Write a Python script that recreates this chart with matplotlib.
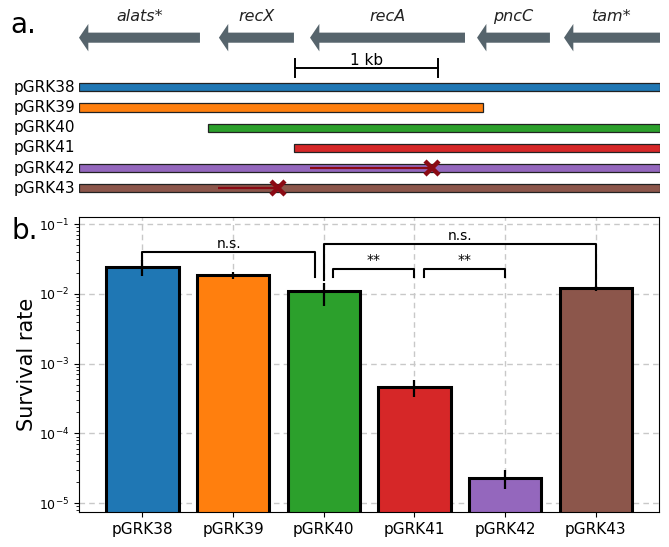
import matplotlib
matplotlib.use("Agg")
import matplotlib.pyplot as plt
from matplotlib.patches import FancyArrow
import numpy as np

# ---------------- data ----------------
constructs = ["pGRK38", "pGRK39", "pGRK40", "pGRK41", "pGRK42", "pGRK43"]
colors = ["#1f77b4", "#ff7f0e", "#2ca02c", "#d62728", "#9467bd", "#8c564b"]

# panel a: genomic map (bp)
genes = ["alats*", "recX", "recA", "pncC", "tam*"]
gene_tip = [0, 975, 1610, 2774, 3380]
gene_tail = [843, 1498, 2690, 3282, 4049]
construct_start = [0, 0, 899, 1498, 0, 0]
construct_end = [4049, 2815, 4049, 4049, 4049, 4049]
# deletion lines with X marks (construct index, line start, X position)
del_rows = [4, 5]
del_start = [1613, 969]
del_x = [2460, 1384]
scale_start = 1505
scale_len = 1000

# panel b: survival rate
survival = [0.0245, 0.0185, 0.0108, 4.55e-4, 2.32e-5, 0.0121]
surv_low = [0.0179, 0.0162, 0.0067, 3.33e-4, 1.6e-5, 0.0108]
surv_high = [0.0306, 0.0206, 0.0145, 5.77e-4, 3.0e-5, 0.0128]

# significance brackets: x1, x2, bar height, left leg bottom, right leg bottom, label
br_x1 = [0.0, 2.0, 2.1, 3.1]
br_x2 = [1.9, 5.0, 3.0, 4.0]
br_y = [0.0402, 0.0513, 0.0225, 0.0225]
br_l = [0.0306, 0.0158, 0.0173, 0.0173]
br_r = [0.0173, 0.0125, 0.0173, 0.0173]
br_txt = ["n.s.", "n.s.", "**", "**"]

# ---------------- figure ----------------
W, H = 669, 547
fig = plt.figure(figsize=(W / 100, H / 100), dpi=100)

# ---- panel a ----
axa = fig.add_axes([79 / W, 1 - 200 / H, 581 / W, 200 / H])
axa.set_xlim(0, 4049)
axa.set_ylim(5.58, -4.32)
axa.axis("off")

arrow_row = -2.455
for g, tip, tail in zip(genes, gene_tip, gene_tail):
    arr = FancyArrow(tail, arrow_row, tip - tail, 0, width=0.5, head_width=1.36,
                     head_length=65, length_includes_head=True,
                     color="#56646c", lw=0)
    axa.add_patch(arr)
    axa.text((tip + tail) / 2, -3.48, g, style="italic", fontsize=11.5,
             ha="center", va="center", color="#222222")

# scale bar
axa.plot([scale_start, scale_start + scale_len], [-0.94, -0.94], color="black", lw=1.4)
for xs in [scale_start, scale_start + scale_len]:
    axa.plot([xs, xs], [-1.40, -0.50], color="black", lw=1.4)
axa.text(scale_start + scale_len / 2, -1.33, "1 kb", fontsize=11, ha="center", va="center")

rows = np.arange(len(constructs))
axa.barh(rows, np.array(construct_end) - np.array(construct_start), left=construct_start,
         height=0.4, color=colors, edgecolor="#222222", linewidth=0.9)
for r, name in zip(rows, constructs):
    axa.text(-25, r, name, fontsize=11, ha="right", va="center")

for r, s, xx in zip(del_rows, del_start, del_x):
    axa.plot([s, xx], [r, r], color="#8b0a14", lw=1.6, solid_capstyle="butt")
    axa.plot([xx], [r], marker="x", markersize=10, mew=3.2, color="#8b0a14")

fig.text(10 / W, 1 - 33 / H, "a.", fontsize=20, ha="left", va="baseline")

# ---- panel b ----
axb = fig.add_axes([79 / W, 1 - 512.3 / H, 580.3 / W, (512.3 - 217) / H])
x = np.arange(len(constructs))
surv = np.array(survival)
yerr = np.vstack([surv - np.array(surv_low), np.array(surv_high) - surv])
axb.bar(x, surv, width=0.8, color=colors, edgecolor="black", linewidth=2.2, zorder=2)
axb.errorbar(x, surv, yerr=yerr, fmt="none", ecolor="black", elinewidth=1.6, capsize=0, zorder=3)
axb.set_yscale("log")
axb.set_ylim(7.4e-6, 0.126)
axb.set_xlim(-0.7, 5.7)
axb.set_xticks(x)
axb.set_xticklabels(constructs, fontsize=11)
axb.tick_params(axis="y", labelsize=9)
axb.grid(True, which="major", linestyle=(0, (4, 3)), color="#c8c8c8", linewidth=1.0)
axb.set_axisbelow(True)
axb.set_ylabel("Survival rate", fontsize=15)
axb.yaxis.set_label_coords(-0.072, 0.5)

for x1, x2, yb, yl, yr, t in zip(br_x1, br_x2, br_y, br_l, br_r, br_txt):
    axb.plot([x1, x1, x2, x2], [yl, yb, yb, yr], color="black", lw=1.5, zorder=4)
    if t == "**":
        axb.text((x1 + x2) / 2, yb * 1.07, t, ha="center", va="bottom", fontsize=10, zorder=4)
    else:
        axb.text((x1 + x2) / 2, yb * 1.03, t, ha="center", va="bottom", fontsize=10, zorder=4)

fig.text(12 / W, 1 - 239 / H, "b.", fontsize=20, ha="left", va="baseline")

fig.savefig("out.png", dpi=100)
